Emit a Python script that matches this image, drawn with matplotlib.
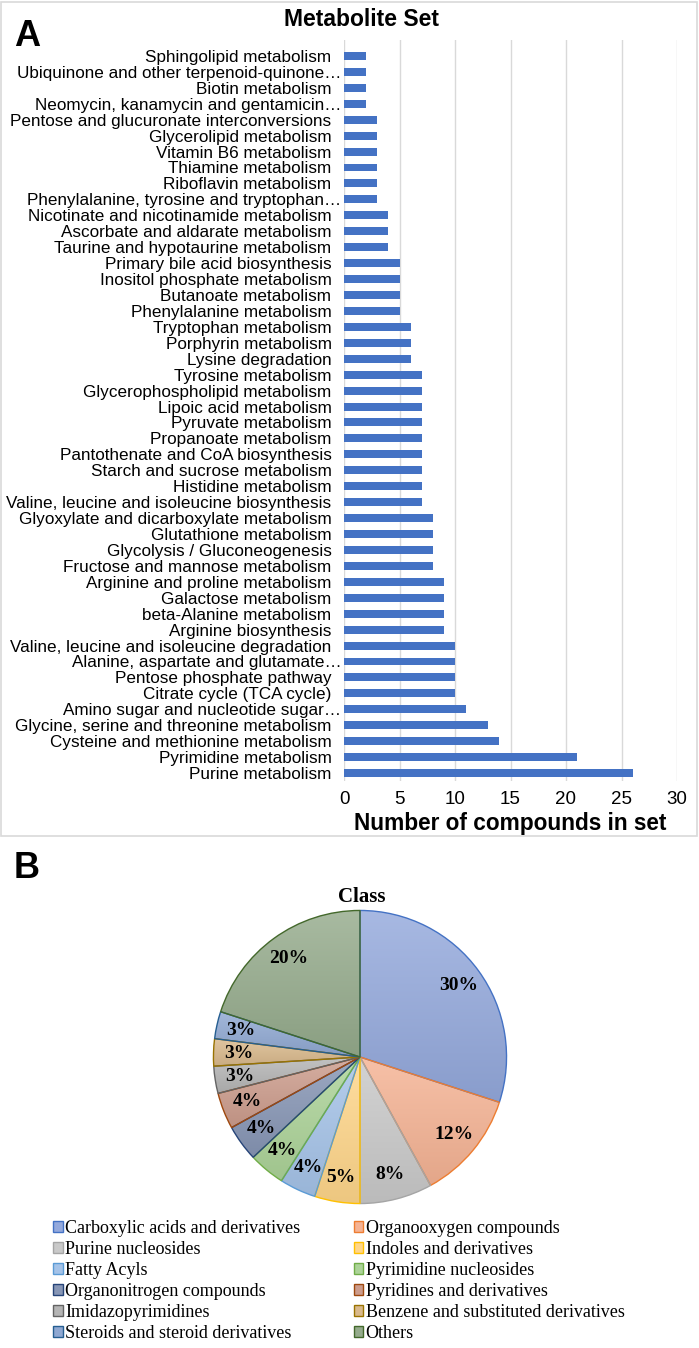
import numpy as np
import matplotlib.pyplot as plt
from matplotlib.patches import Rectangle, Patch
from matplotlib.transforms import ScaledTranslation
from matplotlib.colors import to_rgb

# --- panel A data (top to bottom as drawn) ---
pathways = [
    "Sphingolipid metabolism",
    "Ubiquinone and other terpenoid-quinone\u2026",
    "Biotin metabolism",
    "Neomycin, kanamycin and gentamicin\u2026",
    "Pentose and glucuronate interconversions",
    "Glycerolipid metabolism",
    "Vitamin B6 metabolism",
    "Thiamine metabolism",
    "Riboflavin metabolism",
    "Phenylalanine, tyrosine and tryptophan\u2026",
    "Nicotinate and nicotinamide metabolism",
    "Ascorbate and aldarate metabolism",
    "Taurine and hypotaurine metabolism",
    "Primary bile acid biosynthesis",
    "Inositol phosphate metabolism",
    "Butanoate metabolism",
    "Phenylalanine metabolism",
    "Tryptophan metabolism",
    "Porphyrin metabolism",
    "Lysine degradation",
    "Tyrosine metabolism",
    "Glycerophospholipid metabolism",
    "Lipoic acid metabolism",
    "Pyruvate metabolism",
    "Propanoate metabolism",
    "Pantothenate and CoA biosynthesis",
    "Starch and sucrose metabolism",
    "Histidine metabolism",
    "Valine, leucine and isoleucine biosynthesis",
    "Glyoxylate and dicarboxylate metabolism",
    "Glutathione metabolism",
    "Glycolysis / Gluconeogenesis",
    "Fructose and mannose metabolism",
    "Arginine and proline metabolism",
    "Galactose metabolism",
    "beta-Alanine metabolism",
    "Arginine biosynthesis",
    "Valine, leucine and isoleucine degradation",
    "Alanine, aspartate and glutamate\u2026",
    "Pentose phosphate pathway",
    "Citrate cycle (TCA cycle)",
    "Amino sugar and nucleotide sugar\u2026",
    "Glycine, serine and threonine metabolism",
    "Cysteine and methionine metabolism",
    "Pyrimidine metabolism",
    "Purine metabolism",
]
counts = [2, 2, 2, 2, 3, 3, 3, 3, 3, 3, 4, 4, 4, 5, 5, 5, 5, 6, 6, 6,
          7, 7, 7, 7, 7, 7, 7, 7, 7, 8, 8, 8, 8, 9, 9, 9, 9, 10, 10, 10,
          10, 11, 13, 14, 21, 26]
xticks_a = [0, 5, 10, 15, 20, 25, 30]

# --- panel B data ---
classes = ["Carboxylic acids and derivatives", "Organooxygen compounds",
           "Purine nucleosides", "Indoles and derivatives", "Fatty Acyls",
           "Pyrimidine nucleosides", "Organonitrogen compounds",
           "Pyridines and derivatives", "Imidazopyrimidines",
           "Benzene and substituted derivatives",
           "Steroids and steroid derivatives", "Others"]
shares = [30, 12, 8, 5, 4, 4, 4, 4, 3, 3, 3, 20]
fills = ["#94a9dc", "#f5b394", "#c9c9c9", "#ffd68a", "#a5c3e8", "#acd398",
         "#8796b5", "#cc9c8c", "#b5b5b5", "#d9b98c", "#8fa8d2", "#95ab8c"]
edges = ["#4472c4", "#ed7d31", "#a5a5a5", "#ffc000", "#5b9bd5", "#70ad47",
         "#264478", "#9e480e", "#636363", "#997300", "#255e91", "#43682b"]

W, H = 699, 1348
fig = plt.figure(figsize=(W / 100, H / 100), dpi=100)

def box(x0, y0, x1, y1):
    # pixel coords (top-left origin) -> figure fraction rect
    return [x0 / W, 1 - y1 / H, (x1 - x0) / W, (y1 - y0) / H]

# frame around panel A
fig.patches.append(Rectangle((1 / W, 1 - 836 / H), 696 / W, 834 / H,
                             transform=fig.transFigure, fill=False,
                             edgecolor="#d9d9d9", lw=1.2))

ax = fig.add_axes(box(344, 40, 677, 781))
y = np.arange(len(pathways))
ax.barh(y, counts, height=0.5, color="#4472c4")
ax.set_ylim(len(pathways) - 0.5, -1.0)
ax.set_xlim(0, 30)
ax.set_xticks(xticks_a)
ax.set_yticks(y)
ax.set_yticklabels(pathways, fontsize=12.3, family="Liberation Sans")
ax.tick_params(axis="y", length=0, pad=9)
ax.tick_params(axis="x", length=0, pad=7, labelsize=13.5)
for lab in ax.get_xticklabels():
    lab.set_family("Liberation Sans")
for lab in ax.get_yticklabels():
    if lab.get_text().endswith("\u2026"):
        lab.set_transform(lab.get_transform() + ScaledTranslation(7 / 72, 0, fig.dpi_scale_trans))
ax.grid(axis="x", color="#d9d9d9", lw=1)
ax.set_axisbelow(True)
for s in ax.spines.values():
    s.set_visible(False)
ax.set_xlabel("Number of compounds in set", fontsize=16.3, fontweight="bold",
              family="Liberation Sans", labelpad=3)

fig.text(361 / W, 1 - 19 / H, "Metabolite Set", ha="center", va="center",
         fontsize=16.5, fontweight="bold", family="Liberation Sans")
fig.text(14 / W, 1 - 36 / H, "A", ha="left", va="center", fontsize=26,
         fontweight="bold", family="Liberation Sans")
fig.text(14 / W, 1 - 868 / H, "B", ha="left", va="center", fontsize=26,
         fontweight="bold", family="Liberation Sans")

# --- pie ---
pax = fig.add_axes(box(212, 909, 508, 1205))
wedges, _, autotexts = pax.pie(
    shares, startangle=90, counterclock=False, colors=fills,
    autopct="%d%%", pctdistance=0.83,
    wedgeprops=dict(linewidth=1.0),
    textprops=dict(family="Liberation Serif", fontsize=14, fontweight="bold"))
pax.set_aspect("equal")

# soft vertical gradient inside every slice, like the office-style fill
for w, f, ec in zip(wedges, fills, edges):
    base = np.array(to_rgb(f))
    top = base + (1 - base) * 0.18
    bot = base * 0.93
    t = np.linspace(0, 1, 64)[:, None]
    img = (top[None, :] * (1 - t) + bot[None, :] * t)[:, None, :]
    ext = w.get_path().transformed(w.get_patch_transform()).get_extents()
    im = pax.imshow(img, extent=(ext.x0, ext.x1, ext.y0, ext.y1),
                    aspect="auto", zorder=w.get_zorder(), interpolation="bilinear")
    im.set_clip_path(w)
    w.set_facecolor("none")
    w.set_edgecolor(ec)
    w.set_zorder(w.get_zorder() + 0.5)
for t_ in autotexts:
    t_.set_zorder(5)
pax.set_xlim(-1.01, 1.01)
pax.set_ylim(-1.01, 1.01)
pax.axis("off")

fig.text(362 / W, 1 - 897 / H, "Class", ha="center", va="center",
         fontsize=15, fontweight="bold", family="Liberation Serif")

handles = [Patch(facecolor=f, edgecolor=e, lw=1) for f, e in zip(fills, edges)]
order = list(range(0, 12, 2)) + list(range(1, 12, 2))
fig.legend([handles[i] for i in order], [classes[i] for i in order],
           ncol=2, loc="upper left", bbox_to_anchor=(44 / W, 1 - 1211 / H),
           frameon=False, prop=dict(family="Liberation Serif", size=13),
           handlelength=0.55, handleheight=0.55, handletextpad=0.12,
           labelspacing=0.22, columnspacing=2.95, borderpad=0)

fig.savefig("out.png", dpi=100)
